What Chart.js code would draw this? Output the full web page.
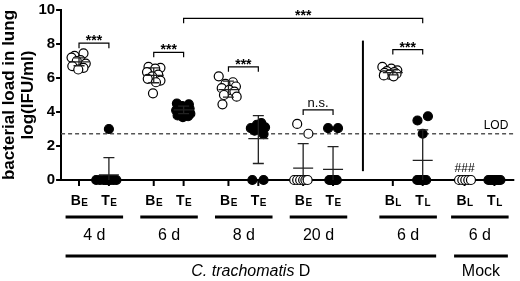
<!DOCTYPE html>
<html>
<head>
<meta charset="utf-8">
<script src="https://cdn.jsdelivr.net/npm/chart.js@4"></script>
<style>
  html, body { margin: 0; padding: 0; background: #fff; }
  #wrap { width: 520px; height: 281px; }
</style>
</head>
<body>
<div id="wrap"><canvas id="chart"></canvas></div>
<script>
// column positions on the x axis (B / T pairs)
var groupPos = [0, 2, 5, 7, 10, 12, 15, 17, 21, 23, 25.8, 27.8];
var groupMain = ["B", "T", "B", "T", "B", "T", "B", "T", "B", "T", "B", "T"];
var groupSub = ["E", "E", "E", "E", "E", "E", "E", "E", "L", "L", "L", "L"];
var groupOpen = [true, false, true, false, true, false, true, false, true, false, true, false];

// log(IFU/ml) per animal
var values = [
    [7.45, 7.3, 7.2, 7.05, 7.0, 6.85, 6.7, 6.6, 6.5],
    [3.0, 0, 0, 0, 0, 0, 0, 0, 0],
    [6.65, 6.6, 6.55, 6.35, 6.2, 6.1, 5.95, 5.85, 5.75, 5.1],
    [4.5, 4.45, 4.35, 4.2, 4.1, 4.0, 3.9, 3.8, 3.75, 3.7],
    [6.1, 5.75, 5.65, 5.5, 5.4, 5.3, 5.2, 5.0, 4.9, 4.45],
    [3.35, 3.25, 3.1, 3.05, 3.0, 2.9, 2.7, 0, 0],
    [3.3, 2.72, 0, 0, 0, 0, 0, 0],
    [3.05, 3.05, 0, 0, 0, 0, 0, 0, 0],
    [6.65, 6.55, 6.45, 6.4, 6.35, 6.3, 6.25, 6.2, 6.15, 6.1],
    [3.75, 3.5, 2.72, 0, 0, 0, 0, 0, 0],
    [0, 0, 0, 0, 0],
    [0, 0, 0, 0, 0, 0, 0]
];
// horizontal scatter of the dots inside a column
var spread = [
    [0.3, -0.3, -0.5, 0.1, -0.15, 0.45, -0.45, 0.3, -0.05],
    [0, -0.85, -0.6, -0.35, -0.1, 0.1, 0.3, 0.5, -0.2],
    [-0.35, 0.45, 0.1, -0.45, 0.3, -0.1, -0.4, 0.45, 0.15, -0.05],
    [-0.45, 0.35, -0.1, 0.4, -0.5, 0.05, 0.45, -0.4, 0.3, -0.05],
    [-0.65, 0.3, -0.2, 0.5, -0.45, 0.05, 0.4, -0.3, 0.55, -0.4],
    [0.2, -0.1, 0.45, -0.5, 0.1, -0.25, 0.35, -0.4, 0.35],
    [-0.4, 0.35, -0.6, -0.4, -0.2, 0, 0.15, 0.3],
    [-0.33, 0.33, -0.25, -0.15, -0.05, 0.05, 0.15, 0.25, 0.1],
    [-0.7, -0.1, 0.3, -0.4, 0.1, -0.55, 0.25, -0.25, -0.6, 0.05],
    [0.35, -0.35, 0, -0.37, -0.25, -0.1, 0, 0.12, 0.23],
    [-0.37, -0.15, 0.05, 0.25, 0.43],
    [-0.4, -0.27, -0.13, 0, 0.13, 0.27, 0.4]
];
// mean and SD bar ends as drawn
var meanVals = [6.95, 0.3, 6.15, 4.12, 5.32, 2.43, 0.7, 0.62, 6.32, 1.16, 0, 0];
var barLow = [6.72, 0, 5.72, 3.9, 4.88, 0.97, 0, 0, 6.18, 0, 0, 0];
var barHigh = [7.18, 1.32, 6.6, 4.35, 5.82, 3.79, 2.14, 1.96, 6.48, 2.95, 0, 0];

// significance brackets: from, to, height, label
var bracketFrom = [0, 5, 10, 15, 21, 7];
var bracketTo = [2, 7, 12, 17, 23, 23];
var bracketY = [8.05, 7.51, 6.66, 4.12, 7.67, 9.51];
var bracketText = ["***", "***", "***", "n.s.", "***", "***"];

var lod = 2.72;
var dayCenters = [1, 6, 11, 16, 22, 26.8];
var dayLabels = ["4 d", "6 d", "8 d", "20 d", "6 d", "6 d"];
var yTicks = [0, 2, 4, 6, 8, 10];

var FONT = "'Liberation Sans', Arial, Helvetica, sans-serif";

var datasets = [];
for (var g = 0; g < groupPos.length; g++) {
    var pts = [];
    for (var i = 0; i < values[g].length; i++) {
        pts.push({ x: groupPos[g] + spread[g][i], y: values[g][i] });
    }
    datasets.push({
        data: pts,
        pointRadius: 4.5,
        pointHoverRadius: 4.5,
        pointBorderWidth: 1.2,
        pointBorderColor: "#000",
        pointBackgroundColor: groupOpen[g] ? "#fff" : "#000",
        clip: false
    });
}

var decorPlugin = {
    id: "decor",
    beforeDatasetsDraw: function(chart) {
        var ctx = chart.ctx, xs = chart.scales.x, ys = chart.scales.y, a = chart.chartArea;
        ctx.save();
        // LOD line
        ctx.strokeStyle = "#555";
        ctx.lineWidth = 1.5;
        ctx.setLineDash([4, 3]);
        var yl = ys.getPixelForValue(lod);
        ctx.beginPath();
        ctx.moveTo(a.left, yl);
        ctx.lineTo(a.right, yl);
        ctx.stroke();
        ctx.setLineDash([]);
        ctx.fillStyle = "#000";
        ctx.font = "12px " + FONT;
        ctx.textAlign = "right";
        ctx.textBaseline = "alphabetic";
        ctx.fillText("LOD", a.right - 6, yl - 5);

        // x axis line and ticks
        var y0 = ys.getPixelForValue(0);
        ctx.strokeStyle = "#000";
        ctx.lineWidth = 2;
        ctx.beginPath();
        ctx.moveTo(a.left, y0);
        ctx.lineTo(a.right, y0);
        ctx.stroke();
        for (var g = 0; g < groupPos.length; g++) {
            var px = xs.getPixelForValue(groupPos[g]);
            ctx.beginPath();
            ctx.moveTo(px, y0);
            ctx.lineTo(px, y0 + 6);
            ctx.stroke();
        }

        // vertical separator
        ctx.lineWidth = 2;
        ctx.beginPath();
        ctx.moveTo(xs.getPixelForValue(19), ys.getPixelForValue(8.2));
        ctx.lineTo(xs.getPixelForValue(19), ys.getPixelForValue(0.52));
        ctx.stroke();

        // brackets
        ctx.lineWidth = 1.2;
        for (var b = 0; b < bracketFrom.length; b++) {
            var x1 = xs.getPixelForValue(bracketFrom[b]);
            var x2 = xs.getPixelForValue(bracketTo[b]);
            var by = ys.getPixelForValue(bracketY[b]);
            ctx.beginPath();
            ctx.moveTo(x1, by + 5);
            ctx.lineTo(x1, by);
            ctx.lineTo(x2, by);
            ctx.lineTo(x2, by + 5);
            ctx.stroke();
            ctx.textAlign = "center";
            if (bracketText[b] === "n.s.") {
                ctx.font = "13px " + FONT;
                ctx.fillText(bracketText[b], (x1 + x2) / 2, by - 3);
            } else {
                ctx.font = "bold 14px " + FONT;
                ctx.fillText(bracketText[b], (x1 + x2) / 2, by + 2);
            }
        }
        // mock marker
        ctx.font = "12px " + FONT;
        ctx.textAlign = "center";
        ctx.fillText("###", xs.getPixelForValue(groupPos[10]), ys.getPixelForValue(0) - 8);

        // category labels with subscripts
        var labY = y0 + 25;
        for (var g = 0; g < groupPos.length; g++) {
            var px = xs.getPixelForValue(groupPos[g]);
            ctx.font = "bold 14px " + FONT;
            var w1 = ctx.measureText(groupMain[g]).width;
            ctx.font = "bold 10px " + FONT;
            var w2 = ctx.measureText(groupSub[g]).width;
            var start = px - (w1 + w2) / 2;
            ctx.textAlign = "left";
            ctx.font = "bold 14px " + FONT;
            ctx.fillText(groupMain[g], start, labY);
            ctx.font = "bold 10px " + FONT;
            ctx.fillText(groupSub[g], start + w1 + 0.5, labY + 1);
        }

        // day underlines and labels
        ctx.lineWidth = 3;
        ctx.textAlign = "center";
        ctx.font = "16px " + FONT;
        for (var d = 0; d < dayCenters.length; d++) {
            var l = xs.getPixelForValue(dayCenters[d] - 1.9);
            var r = xs.getPixelForValue(dayCenters[d] + 1.95);
            ctx.beginPath();
            ctx.moveTo(l, y0 + 37);
            ctx.lineTo(r, y0 + 37);
            ctx.stroke();
            ctx.fillText(dayLabels[d], (l + r) / 2, y0 + 60);
        }

        // organism lines
        var c1 = xs.getPixelForValue(-0.9), c2 = xs.getPixelForValue(23.9);
        var m1 = xs.getPixelForValue(25.1), m2 = xs.getPixelForValue(28.7);
        ctx.beginPath();
        ctx.moveTo(c1, y0 + 76);
        ctx.lineTo(c2, y0 + 76);
        ctx.moveTo(m1, y0 + 76);
        ctx.lineTo(m2, y0 + 76);
        ctx.stroke();
        var base = y0 + 96;
        ctx.font = "italic 16px " + FONT;
        var it = "C. trachomatis";
        var wi = ctx.measureText(it + " ").width;
        ctx.font = "16px " + FONT;
        var wd = ctx.measureText("D").width;
        var sx = (c1 + c2) / 2 - (wi + wd) / 2;
        ctx.textAlign = "left";
        ctx.font = "italic 16px " + FONT;
        ctx.fillText(it + " ", sx, base);
        ctx.font = "16px " + FONT;
        ctx.fillText("D", sx + wi, base);
        ctx.textAlign = "center";
        ctx.fillText("Mock", (m1 + m2) / 2, base);
        ctx.restore();
    },
    afterDatasetsDraw: function(chart) {
        var ctx = chart.ctx, xs = chart.scales.x, ys = chart.scales.y;
        ctx.save();
        ctx.strokeStyle = "#222";
        ctx.lineWidth = 1.3;
        for (var g = 0; g < groupPos.length; g++) {
            if (barHigh[g] === 0) continue;
            var px = xs.getPixelForValue(groupPos[g]);
            var ym = ys.getPixelForValue(meanVals[g]);
            var yh = ys.getPixelForValue(barHigh[g]);
            var ylo = ys.getPixelForValue(barLow[g]);
            ctx.beginPath();
            ctx.moveTo(px - 10, ym);
            ctx.lineTo(px + 10, ym);
            ctx.moveTo(px, yh);
            ctx.lineTo(px, ylo);
            ctx.moveTo(px - 5.5, yh);
            ctx.lineTo(px + 5.5, yh);
            if (barLow[g] > 0) {
                ctx.moveTo(px - 5.5, ylo);
                ctx.lineTo(px + 5.5, ylo);
            }
            ctx.stroke();
        }
        ctx.restore();
    }
};

new Chart(document.getElementById("chart"), {
    type: "scatter",
    data: { datasets: datasets },
    options: {
        responsive: true,
        maintainAspectRatio: false,
        animation: false,
        events: [],
        layout: { padding: { top: 0, right: 3, bottom: 101, left: 0 } },
        plugins: { legend: { display: false }, tooltip: { enabled: false } },
        scales: {
            x: { type: "linear", min: -1.2, max: 29.13, display: false },
            y: {
                min: 0,
                max: 10,
                afterBuildTicks: function(scale) {
                    scale.ticks = yTicks.map(function(v) { return { value: v }; });
                },
                ticks: { color: "#000", padding: 1, font: { family: FONT, size: 15, weight: "bold" } },
                grid: { drawOnChartArea: false, tickLength: 5, color: "#000", lineWidth: 2 },
                border: { color: "#000", width: 2 },
                title: {
                    display: true,
                    text: ["bacterial load in lung", "log(IFU/ml)"],
                    color: "#000",
                    padding: { top: 0, bottom: 0 },
                    font: { family: FONT, size: 17, weight: "bold", lineHeight: 1.1 }
                }
            }
        }
    },
    plugins: [decorPlugin]
});
</script>
</body>
</html>
